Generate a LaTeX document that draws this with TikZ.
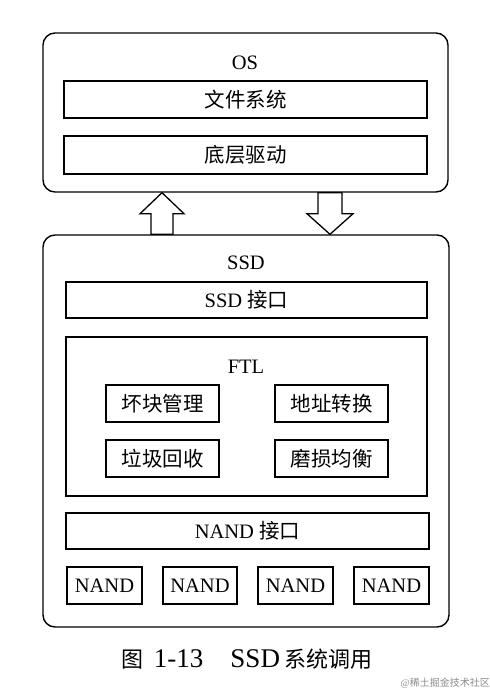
\documentclass[tikz,border=0pt]{standalone}
\usepackage{fontspec}
\setmainfont{Liberation Serif}
\newfontfamily\cjk{Noto Sans CJK SC}
\usetikzlibrary{calc}
\begin{document}
\begin{tikzpicture}[x=1pt,y=-1pt,
  every node/.style={font=\fontsize{20.5}{24}\selectfont, inner sep=0pt},
  outerbox/.style={draw, line width=1.4pt, rounded corners=12pt},
  box/.style={draw, line width=1.3pt},
  lbl/.style={anchor=center},
  hollow/.style={draw, line width=1.3pt, fill=white, line join=miter},
  caption/.style={font=\fontsize{27}{30}\selectfont},
  wm/.style={font=\fontsize{10}{12}\selectfont, text=black!45, anchor=east}]
\useasboundingbox (0,0) rectangle (490,694);
% OS
\node[outerbox, minimum width=405pt, minimum height=159pt] (os) at (245.5,112.5) {};
\node[lbl] (oslbl) at (245,63) {OS};
\node[box, minimum width=363pt, minimum height=37pt] (fs) at (245.5,99.5) {\cjk 文件系统};
\node[box, minimum width=363pt, minimum height=38pt] (drv) at (245.5,155) {\cjk 底层驱动};
% SSD
\node[outerbox, minimum width=406pt, minimum height=392pt] (ssd) at (246,431) {};
\node[lbl] (ssdlbl) at (246,263) {SSD};
\node[box, minimum width=361pt, minimum height=36pt] (ssdif) at (246.5,300) {SSD {\cjk 接口}};
\node[box, minimum width=361pt, minimum height=159pt] (ftl) at (246.5,416.5) {};
\node[lbl] (ftllbl) at (246,367) {FTL};
\node[box, minimum width=113pt, minimum height=37pt] (bb) at (162.5,403.5) {\cjk 坏块管理};
\node[box, minimum width=113pt, minimum height=37pt] (at) at (331.5,403.5) {\cjk 地址转换};
\node[box, minimum width=113pt, minimum height=37pt] (gc) at (162.5,458.5) {\cjk 垃圾回收};
\node[box, minimum width=113pt, minimum height=37pt] (wl) at (331.5,458.5) {\cjk 磨损均衡};
\node[box, minimum width=363pt, minimum height=36pt] (nandif) at (247.5,531) {NAND {\cjk 接口}};
\node[box, minimum width=75pt, minimum height=37pt] (n1) at (104.5,585.5) {NAND};
\node[box, minimum width=74pt, minimum height=37pt] (n2) at (200,585.5) {NAND};
\node[box, minimum width=75pt, minimum height=37pt] (n3) at (295.5,585.5) {NAND};
\node[box, minimum width=75pt, minimum height=37pt] (n4) at (391.5,585.5) {NAND};
% hollow arrows between OS and SSD
\coordinate (ux) at (162,0);
\coordinate (dx) at (330,0);
\draw[hollow] (os.south -| ux) -- ++(22,21) -- ++(-11,0)
  -- ($(ssd.north -| ux)+(11,0)$) -- ($(ssd.north -| ux)+(-11,0)$)
  -- ($(os.south -| ux)+(-11,21)$) -- ++(-11,0) -- cycle;
\draw[hollow] ($(os.south -| dx)+(-12,0)$) -- ($(os.south -| dx)+(12,0)$)
  -- ($(os.south -| dx)+(12,21)$) -- ++(11,0) -- (ssd.north -| dx)
  -- ($(os.south -| dx)+(-23,21)$) -- ++(11,0) -- cycle;
% caption
\node[caption] (cap) at (247,659) {{\cjk\fontsize{22}{26}\selectfont 图}\hspace{10pt}1-13\hspace{27pt}SSD\hspace{4pt}{\cjk\fontsize{22}{26}\selectfont 系统调用}};
\node[wm] (wmk) at (490,683) {@{\cjk 稀土掘金技术社区}};
\end{tikzpicture}
\end{document}
